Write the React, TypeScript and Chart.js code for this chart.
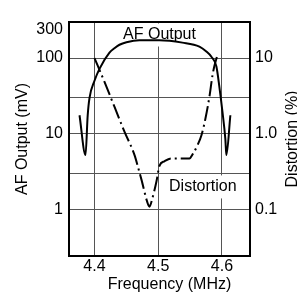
import React, { useEffect, useRef } from 'react';
import { Chart, registerables } from 'chart.js';

Chart.register(...registerables);

// ---- data ----
const freqTicks = [4.4, 4.5, 4.6];
const afTicks = [1, 3, 10, 30, 100, 300];
const afTickLabels = ['1', '', '10', '', '100', '300'];
const distTicks = [0.1, 1, 10];
const distTickLabels = ['0.1', '1.0', '10'];

// AF Output (mV) vs frequency (MHz)
const afFreq = [4.3765, 4.3859, 4.3893, 4.3922, 4.4, 4.4078, 4.4235, 4.4313, 4.4392, 4.4502, 4.4705, 4.5019, 4.5379, 4.5646, 4.5755, 4.5834, 4.5912, 4.5959, 4.6006, 4.6053, 4.6069, 4.6132];
const afLevel = [17.5, 5.2, 17.3, 29.7, 50, 72, 118, 135, 150, 162, 172, 172, 160, 142, 122, 104, 78, 42, 20, 8.5, 5.2, 17.5];

// Distortion (%) vs frequency (MHz)
const distFreq = [4.4, 4.4157, 4.4313, 4.447, 4.4627, 4.4705, 4.4737, 4.4831, 4.4862, 4.4909, 4.4972, 4.5019, 4.5097, 4.5207, 4.5489, 4.5552, 4.5614, 4.5677, 4.574, 4.5803, 4.585, 4.5881, 4.592];
const distLevel = [10, 4.83, 2.27, 1.06, 0.524, 0.308, 0.246, 0.122, 0.108, 0.14, 0.232, 0.374, 0.43, 0.469, 0.469, 0.555, 0.694, 0.945, 1.57, 3.07, 5.8, 7.85, 10.3];

const FONT_FAMILY = '"Liberation Sans", Arial, Helvetica, sans-serif';
const font = { family: FONT_FAMILY, size: 16 };

const framePlugin = {
  id: 'framePlugin',
  beforeDatasetsDraw(chart: any) {
    const { ctx, chartArea, scales } = chart;
    ctx.save();
    ctx.font = `16px ${FONT_FAMILY}`;
    ctx.textAlign = 'center';
    ctx.textBaseline = 'middle';
    const drawLabel = (text: string, x: number, y: number) => {
      const w = ctx.measureText(text).width;
      ctx.fillStyle = '#fff';
      ctx.fillRect(x - w / 2 - 3, y - 11, w + 6, 23);
      ctx.fillStyle = '#000';
      ctx.fillText(text, x, y);
    };
    drawLabel('AF Output', scales.x.getPixelForValue(4.502), Math.max(chartArea.top + 12, scales.y.getPixelForValue(205)));
    drawLabel('Distortion', scales.x.getPixelForValue(4.57), scales.y1.getPixelForValue(0.2));
    ctx.restore();
  },
  afterDraw(chart: any) {
    const { ctx, chartArea } = chart;
    ctx.save();
    ctx.strokeStyle = '#000';
    ctx.lineWidth = 2;
    ctx.strokeRect(chartArea.left, chartArea.top, chartArea.right - chartArea.left, chartArea.bottom - chartArea.top);
    ctx.font = `16px ${FONT_FAMILY}`;
    ctx.fillStyle = '#000';
    ctx.textAlign = 'center';
    ctx.textBaseline = 'middle';
    // x axis title (sits a little right of centre in the original)
    ctx.fillText('Frequency (MHz)', (chartArea.left + chartArea.right) / 2 + 10, chart.height - 8.5);
    // right axis title, reading bottom-to-top
    ctx.translate(293, (chartArea.top + chartArea.bottom) / 2);
    ctx.rotate(-Math.PI / 2);
    ctx.fillText('Distortion (%)', 0, 0);
    ctx.restore();
  },
};

export default function App() {
  const ref = useRef<HTMLCanvasElement | null>(null);
  useEffect(() => {
    if (!ref.current) return;
    const chart = new Chart(ref.current, {
      type: 'line',
      data: {
        datasets: [
          {
            label: 'AF Output',
            data: afFreq.map((f, i) => ({ x: f, y: afLevel[i] })),
            yAxisID: 'y',
            borderColor: '#000',
            borderWidth: 2,
            pointRadius: 0,
            fill: false,
            cubicInterpolationMode: 'monotone',
          },
          {
            label: 'Distortion',
            data: distFreq.map((f, i) => ({ x: f, y: distLevel[i] })),
            yAxisID: 'y1',
            borderColor: '#000',
            borderWidth: 2,
            borderDash: [15, 4, 2, 4],
            pointRadius: 0,
            fill: false,
            cubicInterpolationMode: 'monotone',
          },
        ],
      },
      options: {
        animation: false,
        responsive: false,
        events: [],
        layout: { padding: { top: 10, left: 0, right: 0, bottom: 0 } },
        plugins: { legend: { display: false }, tooltip: { enabled: false } },
        scales: {
          x: {
            type: 'linear',
            position: 'bottom',
            min: 4.36,
            max: 4.644,
            afterBuildTicks: (s: any) => { s.ticks = freqTicks.map((v) => ({ value: v })); },
            afterFit: (s: any) => { s.height = 37; },
            grid: { color: '#555', lineWidth: 1, drawTicks: false },
            border: { display: false },
            ticks: {
              padding: 1,
              color: '#000',
              font,
              autoSkip: false,
              maxRotation: 0,
              callback: (v: any) => Number(v).toFixed(1),
            },
            title: { display: false },
          },
          y: {
            type: 'logarithmic',
            position: 'left',
            min: 0.24,
            max: 300,
            afterBuildTicks: (s: any) => { s.ticks = afTicks.map((v) => ({ value: v })); },
            afterFit: (s: any) => { s.width = 69; },
            grid: { color: '#555', lineWidth: 1, drawTicks: false },
            border: { display: false },
            ticks: {
              padding: 6,
              color: '#000',
              font: { family: FONT_FAMILY, size: 16, lineHeight: 1 },
              autoSkip: false,
              callback: (_v: any, i: number) => {
                const t = afTickLabels[i];
                return t === '300' ? ['', t] : t;
              },
            },
            title: {
              display: true,
              text: 'AF Output (mV)',
              color: '#000',
              font,
              padding: { top: 13, bottom: 0 },
            },
          },
          y1: {
            type: 'logarithmic',
            position: 'right',
            min: 0.024,
            max: 30,
            afterBuildTicks: (s: any) => { s.ticks = distTicks.map((v) => ({ value: v })); },
            afterFit: (s: any) => { s.width = 47; },
            grid: { display: false, drawTicks: false },
            border: { display: false },
            ticks: {
              padding: 5,
              color: '#000',
              font,
              autoSkip: false,
              callback: (_v: any, i: number) => distTickLabels[i],
            },
          },
        },
      } as any,
      plugins: [framePlugin],
    });
    return () => chart.destroy();
  }, []);

  return (
    <div style={{ position: 'fixed', left: 0, top: 0, width: 297, height: 293, background: '#fff' }}>
      <canvas ref={ref} width={297} height={293} style={{ display: 'block' }} />
    </div>
  );
}
